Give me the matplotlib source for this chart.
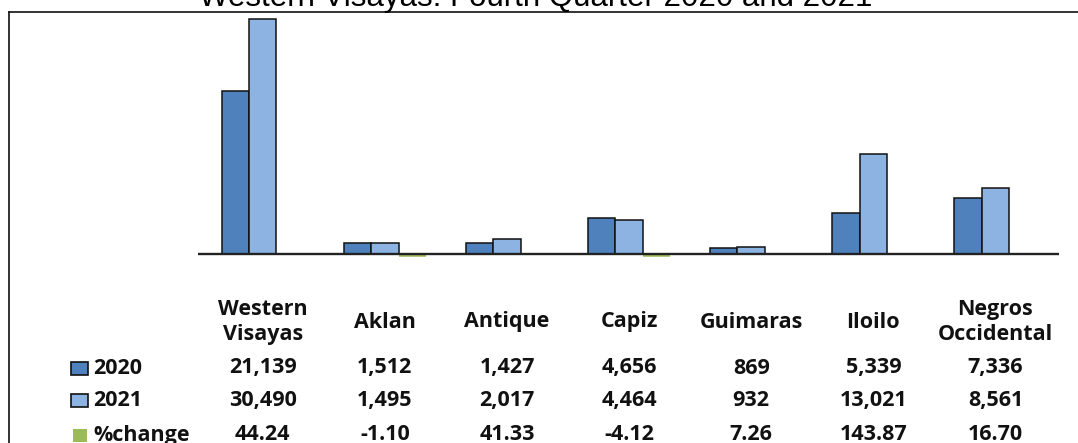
import matplotlib.pyplot as plt
import matplotlib.patches as mpatches
from matplotlib.lines import Line2D
from matplotlib.transforms import blended_transform_factory
import numpy as np

regions = ["Western\nVisayas", "Aklan", "Antique", "Capiz", "Guimaras", "Iloilo", "Negros\nOccidental"]
vals_2020 = [21139, 1512, 1427, 4656, 869, 5339, 7336]
vals_2021 = [30490, 1495, 2017, 4464, 932, 13021, 8561]
pct_change = [44.24, -1.10, 41.33, -4.12, 7.26, 143.87, 16.70]
row_names = ["2020", "2021", "%change"]

c2020 = "#4F81BD"
c2021 = "#8DB3E2"
cpct = "#9BBB59"

W, H = 1078, 443
fig = plt.figure(figsize=(W / 100, H / 100), dpi=100)


def fy(py):
    # pixel row (from top) -> figure fraction
    return 1 - py / H


# plot area: zero line at pixel row 254, 30490 reaches row 19
scale = (254.3 - 19) / max(vals_2021)
ax = fig.add_axes([198 / W, fy(280), (1059 - 198) / W, (280 - 12) / H])
ax.set_xlim(-0.53, 6.52)
ymin, ymax = -(280 - 254.3) / scale, (254.3 - 12) / scale
ax.set_ylim(ymin, ymax)
ax.axis("off")

x = np.arange(len(regions))
w = 0.225
ax.bar(x - w, vals_2020, w, color=c2020, edgecolor="#111111", linewidth=1.1, zorder=2)
ax.bar(x, vals_2021, w, color=c2021, edgecolor="#111111", linewidth=1.1, zorder=2)
# %change is tiny on this scale: positive ones vanish in the zero line,
# negative ones show as a thin green sliver just below it
pct_bars = ax.bar(x + w, pct_change, w, color=cpct, edgecolor=cpct, linewidth=0, zorder=1)
below = mpatches.Rectangle((-1, ymin), 9, -ymin, transform=ax.transData)
for b, v in zip(pct_bars, pct_change):
    if v < 0:
        b.set_linewidth(4)
        b.set_clip_path(below)
ax.axhline(0, color="#222222", linewidth=1.7, zorder=3)

# frame (top and left edges visible)
fig.add_artist(Line2D([9 / W, 1.0], [fy(12.3), fy(12.3)], color="#111111", linewidth=1.2))
fig.add_artist(Line2D([9.3 / W, 9.3 / W], [fy(12.3), 0], color="#111111", linewidth=1.2))

# title (partly cut off at the top)
fig.text(536 / W, fy(6), "Western Visayas: Fourth Quarter 2020 and 2021",
         ha="center", va="baseline", fontsize=22.5, family="Liberation Sans")

# data table
tr = blended_transform_factory(ax.transData, fig.transFigure)
tfont = dict(family="Open Sans", fontweight="bold", fontsize=15.5, color="#111111")
for i, name in enumerate(regions):
    fig.text(x[i], fy(322), name, transform=tr, ha="center", va="center",
             linespacing=1.2, **tfont)

rows_y = [368, 400.5, 435]
rows = [[f"{v:,}" for v in vals_2020],
        [f"{v:,}" for v in vals_2021],
        [f"{v:.2f}" for v in pct_change]]
for ry, cells in zip(rows_y, rows):
    for i, s in enumerate(cells):
        fig.text(x[i], fy(ry), s, transform=tr, ha="center", va="center", **tfont)

# row labels with legend keys
keys = [(c2020, "#111111", 71, 17), (c2021, "#111111", 71, 17), (cpct, "none", 73, 14)]
for (fc, ec, kx, kw), ry, lab in zip(keys, rows_y, row_names):
    fig.add_artist(mpatches.Rectangle((kx / W, fy(ry + 6.5)), kw / W, 13 / H,
                                      facecolor=fc, edgecolor=ec, linewidth=1.2,
                                      transform=fig.transFigure))
    fig.text(93 / W, fy(ry), lab, ha="left", va="center", **tfont)

fig.savefig("out.png", dpi=100)
